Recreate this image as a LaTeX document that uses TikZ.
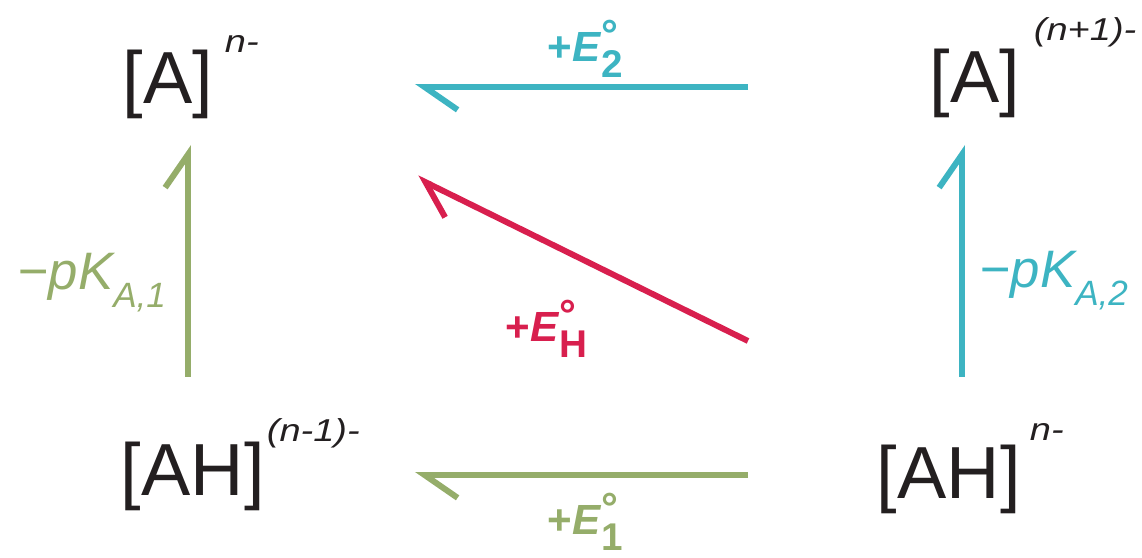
\documentclass[tikz,border=0pt]{standalone}
\usepackage{fontspec}
\setmainfont{Liberation Sans}
\newfontfamily\chargefont[FakeStretch=1.2]{Liberation Sans}
\usetikzlibrary{arrows.meta}
\definecolor{redoxcyan}{HTML}{3DB4C2}
\definecolor{redoxgreen}{HTML}{95AD6A}
\definecolor{redoxred}{HTML}{D81F4E}
\definecolor{ink}{HTML}{231F20}

\begin{document}
\begin{tikzpicture}[>={Straight Barb[left,length=9.4pt,width=13pt]},line width=1.7pt,
  species/.style={anchor=base west,inner sep=0pt,text=ink,font=\fontsize{21}{21}\selectfont},
  charge/.style={anchor=base west,inner sep=0pt,text=ink,font=\chargefont\fontsize{9}{9}\selectfont\itshape},
  potential/.style={anchor=base west,inner sep=0pt,font=\fontsize{12}{12}\selectfont\bfseries},
  acidity/.style={anchor=base west,inner sep=0pt,font=\fontsize{15}{15}\selectfont\itshape}]
\useasboundingbox (0,0) rectangle (11.42,-5.58);

\node[species] (Al) at (1.20,-1.04) {[A]};
\node[charge] (Alsup) at (2.22,-0.53) {n-};
\node[species] (Ar) at (9.27,-1.03) {[A]};
\node[charge] (Arsup) at (10.31,-0.41) {(n+1)-};
\node[species] (AHl) at (1.18,-4.96) {[AH]};
\node[charge] (AHlsup) at (2.64,-4.42) {(n-1)-};
\node[species] (AHr) at (8.74,-4.99) {[AH]};
\node[charge] (AHrsup) at (10.27,-4.41) {n-};

\coordinate (e2s) at (7.48,-0.87);
\coordinate (e2e) at (4.15,-0.87);
\coordinate (e1s) at (7.48,-4.75);
\coordinate (e1e) at (4.15,-4.75);
\coordinate (k1s) at (1.88,-3.77);
\coordinate (k1e) at (1.88,-1.45);
\coordinate (k2s) at (9.62,-3.77);
\coordinate (k2e) at (9.62,-1.45);
\coordinate (ehs) at (7.48,-3.41);
\coordinate (ehe) at (4.17,-1.78);

\draw[->,redoxcyan] (e2s) -- (e2e);
\draw[->,redoxgreen] (e1s) -- (e1e);
\draw[->,redoxgreen] (k1s) -- (k1e);
\draw[->,redoxcyan] (k2s) -- (k2e);
\draw[->,redoxred] (ehs) -- (ehe);

\node[potential,text=redoxcyan] (E2) at (5.45,-0.62) {+\textit{E}\rlap{\raisebox{3.6pt}{°}}\raisebox{-4.5pt}{\fontsize{11}{11}\selectfont 2}};
\node[potential,text=redoxgreen] (E1) at (5.45,-5.35) {+\textit{E}\rlap{\raisebox{3.6pt}{°}}\raisebox{-4.5pt}{\fontsize{11}{11}\selectfont 1}};
\node[potential,text=redoxred] (EH) at (5.03,-3.42) {+\textit{E}\rlap{\raisebox{3.6pt}{°}}\raisebox{-4.5pt}{\fontsize{11}{11}\selectfont H}};
\node[acidity,text=redoxgreen] (pK1) at (0.15,-2.90) {−pK\raisebox{-5pt}{\fontsize{10}{10}\selectfont A,1}};
\node[acidity,text=redoxcyan] (pK2) at (9.77,-2.88) {−pK\raisebox{-5pt}{\fontsize{10}{10}\selectfont A,2}};
\end{tikzpicture}
\end{document}
